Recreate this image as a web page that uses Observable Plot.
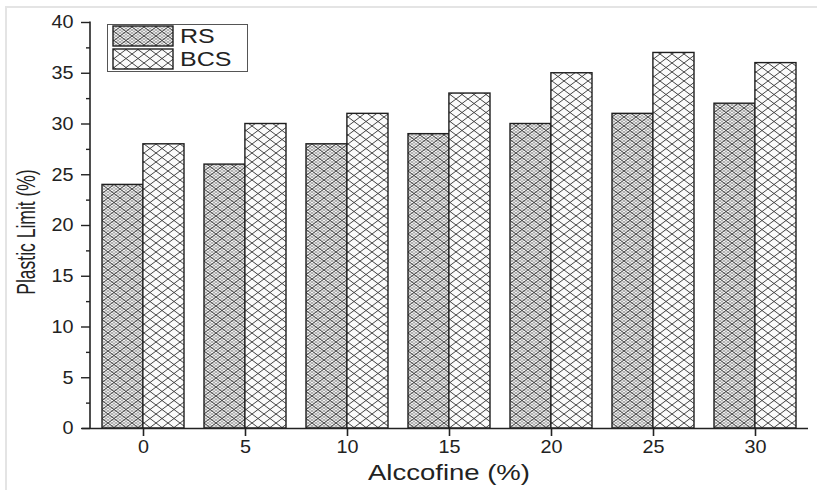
<!DOCTYPE html>
<html>
<head>
<meta charset="utf-8">
<script src="https://cdn.jsdelivr.net/npm/d3@7"></script>
<script src="https://cdn.jsdelivr.net/npm/@observablehq/plot@0.6"></script>
<style>
  html, body { margin: 0; padding: 0; background: #fff; }
  #wrap { position: relative; width: 817px; height: 490px; overflow: hidden; }
  #border { position: absolute; left: 5px; top: 6px; right: -4px; bottom: -4px;
            border-top: 2px solid #e4e4e4; border-left: 2px solid #e4e4e4; pointer-events: none; }
  #wrap svg { position: absolute; left: 0; top: 0; }
</style>
</head>
<body>
<div id="wrap"><div id="border"></div></div>
<script>
// ---- data ----
const alccofine = [0, 5, 10, 15, 20, 25, 30];
const rsValues  = [24, 26, 28, 29, 30, 31, 32];
const bcsValues = [28, 30, 31, 33, 35, 37, 36];
const seriesNames = ["RS", "BCS"];
const yMajorTicks = [0, 5, 10, 15, 20, 25, 30, 35, 40];
const yMinorTicks = [2.5, 7.5, 12.5, 17.5, 22.5, 27.5, 32.5, 37.5];
const xTitle = "Alccofine (%)";
const yTitle = "Plastic Limit (%)";

const rsData  = alccofine.map((a, i) => ({alc: a, value: rsValues[i]}));
const bcsData = alccofine.map((a, i) => ({alc: a, value: bcsValues[i]}));

const W = 817, H = 490;
const half = 40.9; // half of the band width
const FONT = "'Liberation Sans', Arial, sans-serif";

const plot = Plot.plot({
  width: W, height: H,
  marginLeft: 90, marginRight: 9, marginTop: 22, marginBottom: 62,
  style: {fontFamily: FONT, color: "#222", background: "transparent"},
  x: {type: "band", domain: alccofine, paddingInner: 0.2, paddingOuter: 0.11, axis: null},
  y: {domain: [0, 40], axis: null},
  marks: [
    Plot.barY(rsData, {x: "alc", y: "value", fill: "url(#pat-rs)", stroke: "#1e1e1e", strokeWidth: 1.4, insetRight: half}),
    Plot.barY(bcsData, {x: "alc", y: "value", fill: "url(#pat-bcs)", stroke: "#1e1e1e", strokeWidth: 1.4, insetLeft: half}),
    Plot.axisY({ticks: yMajorTicks, tickSize: 9, tickPadding: 8, fontSize: 18, label: null, stroke: "#222", strokeWidth: 1.4}),
    Plot.axisY({ticks: yMinorTicks, tickSize: 4, tickFormat: () => "", label: null, stroke: "#222", strokeWidth: 1.4}),
    Plot.axisX({tickSize: 8, tickPadding: 4, fontSize: 18, label: null, stroke: "#222", strokeWidth: 1.6}),
    Plot.ruleY([0], {stroke: "#222", strokeWidth: 1.6, insetLeft: -8})
  ]
});

document.getElementById("wrap").appendChild(plot);

const svg = d3.select(plot);
const xs = plot.scale("x"), ys = plot.scale("y");

// patterns
const defs = svg.insert("defs", ":first-child");
const pb = defs.append("pattern").attr("id", "pat-bcs").attr("patternUnits", "userSpaceOnUse")
  .attr("width", 12).attr("height", 9);
pb.append("rect").attr("width", 12).attr("height", 9).attr("fill", "#fbfbfb");
pb.append("path").attr("d", "M0,0L12,9M0,9L12,0").attr("stroke", "#3a3a3a").attr("stroke-width", 0.95).attr("fill", "none");

const pr = defs.append("pattern").attr("id", "pat-rs").attr("patternUnits", "userSpaceOnUse")
  .attr("width", 12).attr("height", 9);
pr.append("rect").attr("width", 12).attr("height", 9).attr("fill", "#f2f2f2");
let fine = "";
for (let k = -12; k <= 12; k += 4) {
  fine += `M${k},0L${k + 12},9M${k},9L${k + 12},0`;
}
pr.append("path").attr("d", fine).attr("stroke", "#7a7a7a").attr("stroke-width", 0.6).attr("fill", "none");
pr.append("path").attr("d", "M0,0L12,9M0,9L12,0").attr("stroke", "#3a3a3a").attr("stroke-width", 0.85).attr("fill", "none");

// y axis line
const x0 = xs.range[0];
svg.append("line").attr("x1", x0).attr("x2", x0)
  .attr("y1", ys.apply(0) + 0.8).attr("y2", ys.apply(40) - 0.5)
  .attr("stroke", "#222").attr("stroke-width", 1.6);

// stretch tick labels horizontally like the reference
function stretch(sel, s) {
  sel.each(function() {
    const t = d3.select(this);
    const tr = t.attr("transform");
    if (tr) t.attr("transform", tr + ` scale(${s},1)`);
    else {
      const x = +t.attr("x") || 0, y = +t.attr("y") || 0;
      t.attr("transform", `translate(${x},${y}) scale(${s},1) translate(${-x},${-y})`);
    }
  });
}
stretch(svg.selectAll("g[aria-label='y-axis tick label'] text, g[aria-label='x-axis tick label'] text"), 1.1);

// axis titles
const xc = (xs.range[0] + xs.range[1]) / 2;
svg.append("text").text(xTitle)
  .attr("transform", `translate(${xc},480) scale(1.25,1)`)
  .attr("text-anchor", "middle").attr("font-size", 22).attr("fill", "#222")
  .attr("font-family", FONT);
const yc = (ys.range[0] + ys.range[1]) / 2 + 7;
svg.append("text").text(yTitle)
  .attr("transform", `translate(35,${yc}) scale(1.5,1) rotate(-90)`)
  .attr("text-anchor", "middle").attr("font-size", 17.5).attr("fill", "#222")
  .attr("font-family", FONT);

// legend
const lg = svg.append("g");
lg.append("rect").attr("x", 107.5).attr("y", 24.5).attr("width", 140).attr("height", 47)
  .attr("fill", "#fff").attr("stroke", "#555").attr("stroke-width", 1);
const patIds = ["pat-rs", "pat-bcs"];
seriesNames.forEach((name, i) => {
  const yTop = 26 + i * 23;
  lg.append("rect").attr("x", 113).attr("y", yTop).attr("width", 60).attr("height", 20)
    .attr("fill", `url(#${patIds[i]})`).attr("stroke", "#1e1e1e").attr("stroke-width", 1.4);
  lg.append("text").text(name)
    .attr("transform", `translate(180,${yTop + 17}) scale(1.25,1)`)
    .attr("text-anchor", "start")
    .attr("font-size", 20).attr("fill", "#222")
    .attr("font-family", FONT);
});
</script>
</body>
</html>
